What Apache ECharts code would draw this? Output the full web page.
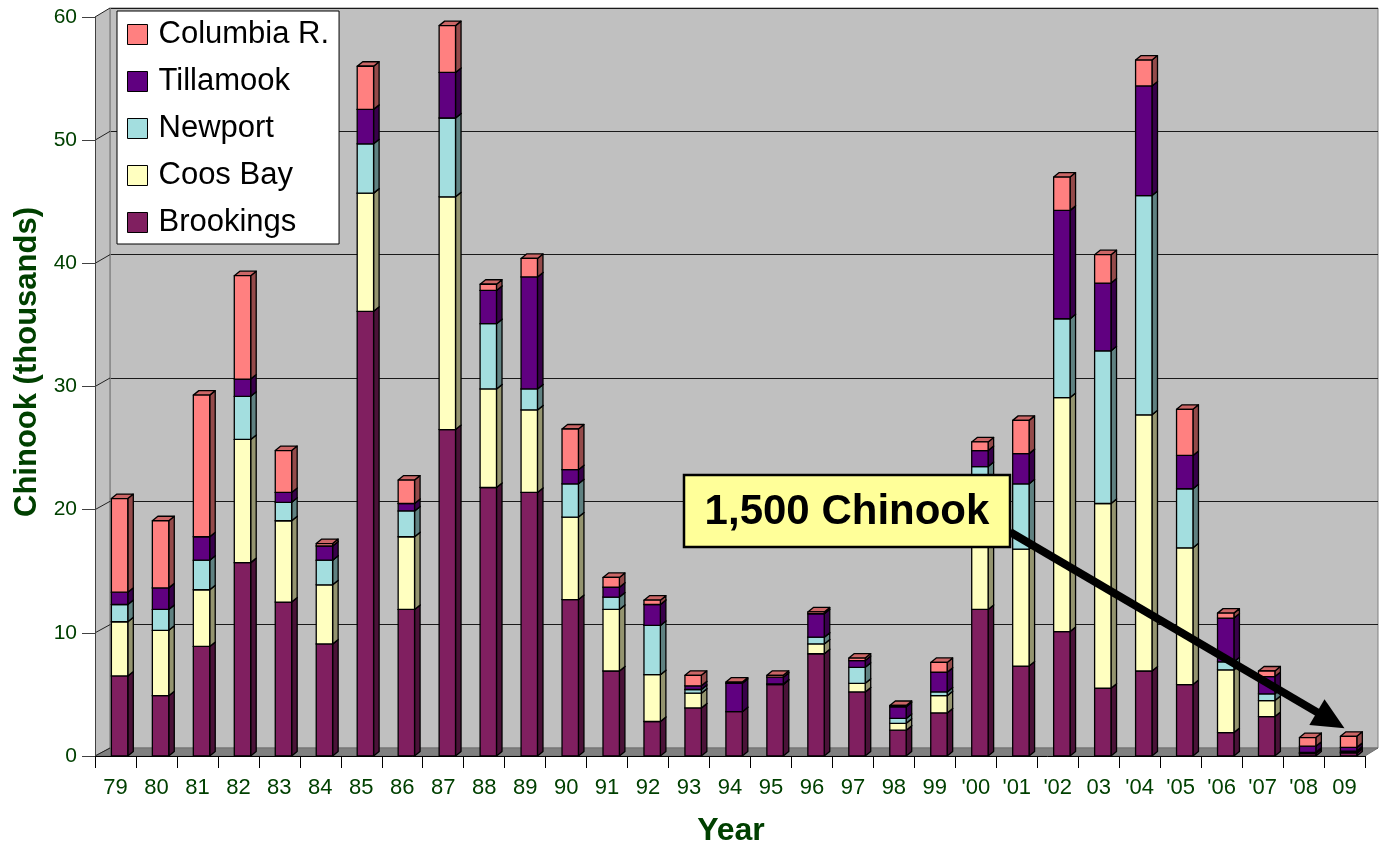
<!DOCTYPE html>
<html><head><meta charset="utf-8">
<script src="https://cdn.jsdelivr.net/npm/echarts@6/dist/echarts.min.js"></script>
<style>html,body{margin:0;padding:0;background:#fff}#c{width:1385px;height:846px}</style>
</head><body><div id="c"></div>
<script>
const years = ['79','80','81','82','83','84','85','86','87','88','89','90','91','92','93','94','95','96','97','98','99',"'00","'01","'02",'03',"'04","'05","'06","'07","'08",'09'];
const brookings = [6.5,4.9,8.9,15.7,12.5,9.1,36.1,11.9,26.5,21.8,21.4,12.7,6.9,2.8,3.9,3.6,5.8,8.3,5.2,2.1,3.5,11.9,7.3,10.1,5.5,6.9,5.8,1.9,3.2,0.2,0.25];
const coosBay   = [4.4,5.3,4.6,10.0,6.6,4.8,9.6,5.9,18.9,8.0,6.7,6.7,5.0,3.8,1.2,0,0,0.8,0.7,0.55,1.4,10.1,9.5,19.0,15.0,20.8,11.1,5.1,1.3,0.05,0.05];
const newport   = [1.4,1.7,2.4,3.5,1.5,2.0,4.0,2.1,6.4,5.3,1.7,2.7,1.0,4.0,0.3,0,0.05,0.55,1.3,0.4,0.3,1.5,5.3,6.4,12.4,17.8,4.8,0.65,0.55,0.05,0.1];
const tillamook = [1.0,1.75,1.9,1.4,0.8,1.15,2.8,0.6,3.7,2.7,9.1,1.15,0.8,1.7,0.3,2.3,0.55,1.9,0.55,0.95,1.6,1.3,2.45,8.8,5.5,8.9,2.7,3.55,1.4,0.5,0.3];
const columbia  = [7.6,5.45,11.5,8.4,3.4,0.2,3.5,1.9,3.8,0.5,1.5,3.3,0.8,0.35,0.85,0.1,0.15,0.15,0.2,0.1,0.8,0.7,2.7,2.7,2.3,2.1,3.75,0.4,0.45,0.7,0.9];
const yTicks = [0,10,20,30,40,50,60];

const seriesNames = ['Brookings','Coos Bay','Newport','Tillamook','Columbia R.'];
const seriesValues = [brookings, coosBay, newport, tillamook, columbia];
const colors = ['#801F60','#FFFFC0','#A3DEDF','#600080','#FF8080'];
const green = '#004000';
const FONT = "'Liberation Sans', Arial, sans-serif";

function shade(hex, f) {
  const n = parseInt(hex.slice(1), 16);
  const r = Math.round(((n >> 16) & 255) * f), g = Math.round(((n >> 8) & 255) * f), b = Math.round((n & 255) * f);
  return 'rgb(' + r + ',' + g + ',' + b + ')';
}

const cum = years.map(() => 0);
const series = seriesNames.map((name, si) => {
  const data = years.map((y, i) => { const b = cum[i]; cum[i] += seriesValues[si][i]; return [i, b, cum[i]]; });
  const col = colors[si], side = shade(col, 0.58), top = shade(col, 0.8);
  return {
    type: 'custom', name: name, xAxisIndex: 0, yAxisIndex: 0, z: 5,
    itemStyle: { color: col, borderColor: '#000', borderWidth: 1 },
    data: data, encode: { x: 0, y: [1, 2] },
    renderItem: function (params, api) {
      const i = api.value(0), b = api.value(1), t = api.value(2);
      if (t - b <= 0) return null;
      const pB = api.coord([i, b]), pT = api.coord([i, t]);
      const bw = api.size([1, 0])[0];
      const w = bw * 0.4, x0 = pB[0] - bw * 0.1, x1 = x0 + w, dx = bw * 0.135, dy = -4.5;
      const yb = pB[1], yt = pT[1];
      const ls = { stroke: '#000', lineWidth: 1.3, lineJoin: 'round' };
      return { type: 'group', children: [
        { type: 'polygon', shape: { points: [[x1, yt], [x1 + dx, yt + dy], [x1 + dx, yb + dy], [x1, yb]] }, style: Object.assign({ fill: side }, ls) },
        { type: 'polygon', shape: { points: [[x0, yt], [x0 + dx, yt + dy], [x1 + dx, yt + dy], [x1, yt]] }, style: Object.assign({ fill: top }, ls) },
        { type: 'rect', shape: { x: x0, y: yt, width: w, height: yb - yt }, style: Object.assign({ fill: col }, ls) }
      ] };
    }
  };
});

const chart = echarts.init(document.getElementById('c'), null, { renderer: 'canvas' });
chart.setOption({
  animation: false,
  backgroundColor: '#fff',
  textStyle: { fontFamily: FONT },
  grid: [
    { left: 95, right: 20, top: 17, bottom: 90 },
    { left: 110, right: 7, top: 8, bottom: 98, show: true, backgroundColor: '#C0C0C0', borderColor: '#808080', borderWidth: 1, z: 0 }
  ],
  legend: {
    data: ['Columbia R.', 'Tillamook', 'Newport', 'Coos Bay', 'Brookings'],
    orient: 'vertical', left: 117, top: 11, z: 20,
    backgroundColor: '#fff', borderColor: '#000', borderWidth: 1,
    padding: [8, 10, 6, 10], itemWidth: 20, itemHeight: 20, itemGap: 16,
    icon: 'rect', selectedMode: false,
    itemStyle: { borderColor: '#000', borderWidth: 1 },
    textStyle: { fontFamily: FONT, fontSize: 31, color: '#000', lineHeight: 30, padding: [0, 0, 0, 6] }
  },
  xAxis: [
    { gridIndex: 0, type: 'category', data: years, z: 6,
      axisLine: { lineStyle: { color: '#000', width: 1 } },
      axisTick: { show: true, length: 12, lineStyle: { color: '#000' } },
      axisLabel: { color: green, fontSize: 22, fontFamily: FONT, margin: 21, interval: 0 } },
    { gridIndex: 1, type: 'category', data: years, show: false }
  ],
  yAxis: [
    { gridIndex: 0, type: 'value', min: 0, max: 60, interval: 10, z: 6,
      axisLine: { show: true, lineStyle: { color: '#404040' } },
      axisTick: { show: true, length: 13, lineStyle: { color: '#404040' } },
      axisLabel: { color: green, fontSize: 21, fontFamily: FONT, margin: 18 },
      splitLine: { show: false } },
    { gridIndex: 1, type: 'value', min: 0, max: 60, interval: 10,
      axisLine: { show: false }, axisTick: { show: false }, axisLabel: { show: false },
      splitLine: { show: true, lineStyle: { color: '#1a1a1a', width: 1.2 } } }
  ],
  series: series
});

// Decorations: walls, floor, connectors, titles, annotation
const yF = v => chart.convertToPixel({ yAxisIndex: 0 }, v);
const yB = v => chart.convertToPixel({ yAxisIndex: 1 }, v);
const xL = 95, xBack = 110, xRightFront = 1365, xRightBack = 1378;
const g = [];
g.push({ type: 'polygon', z: 1, shape: { points: [[xL, yF(60)], [xBack, yB(60)], [xBack, yB(0)], [xL, yF(0)]] }, style: { fill: '#C0C0C0' } });
g.push({ type: 'polygon', z: 1, shape: { points: [[xL, yF(0)], [xBack, yB(0)], [xRightBack, yB(0)], [xRightFront, yF(0)]] }, style: { fill: '#808080', stroke: '#707070', lineWidth: 1 } });
g.push({ type: 'line', z: 1, shape: { x1: xBack, y1: yB(60), x2: xBack, y2: yB(0) }, style: { stroke: '#888', lineWidth: 1.5 } });
yTicks.forEach(v => {
  g.push({ type: 'line', z: 1, shape: { x1: xL, y1: yF(v), x2: xBack, y2: yB(v) }, style: { stroke: '#222', lineWidth: 1 } });
});
g.push({ type: 'text', z: 10, x: 27, y: 362, rotation: Math.PI / 2,
  style: { text: 'Chinook (thousands)', fill: green, font: "bold 31px 'Liberation Sans', Arial, sans-serif", textAlign: 'center', textVerticalAlign: 'middle' } });
g.push({ type: 'text', z: 10, x: 731, y: 831,
  style: { text: 'Year', fill: green, font: "bold 32px 'Liberation Sans', Arial, sans-serif", textAlign: 'center', textVerticalAlign: 'middle' } });

// Annotation box + arrow pointing at the last bar
const last = years.length - 1;
const tipPt = chart.convertToPixel({ gridIndex: 0 }, [last, cum[last]]);
const T = [tipPt[0], tipPt[1] - 8];
const S = [1010, 532];
const ux = T[0] - S[0], uy = T[1] - S[1], len = Math.hypot(ux, uy);
const u = [ux / len, uy / len], n = [-u[1], u[0]];
const L = 32, H = 15;
const Bc = [T[0] - u[0] * L, T[1] - u[1] * L];
g.push({ type: 'line', z: 12, shape: { x1: S[0], y1: S[1], x2: Bc[0] + u[0] * 2, y2: Bc[1] + u[1] * 2 }, style: { stroke: '#000', lineWidth: 8 } });
g.push({ type: 'polygon', z: 12, shape: { points: [T, [Bc[0] + n[0] * H, Bc[1] + n[1] * H], [Bc[0] - n[0] * H, Bc[1] - n[1] * H]] }, style: { fill: '#000' } });
g.push({ type: 'rect', z: 13, shape: { x: 684, y: 475, width: 326, height: 72 }, style: { fill: '#FFFF99', stroke: '#000', lineWidth: 2.5 } });
g.push({ type: 'text', z: 14, x: 847, y: 512,
  style: { text: '1,500 Chinook', fill: '#000', font: "bold 42px 'Liberation Sans', Arial, sans-serif", textAlign: 'center', textVerticalAlign: 'middle' } });

chart.setOption({ graphic: { elements: g } });
</script>
</body></html>
